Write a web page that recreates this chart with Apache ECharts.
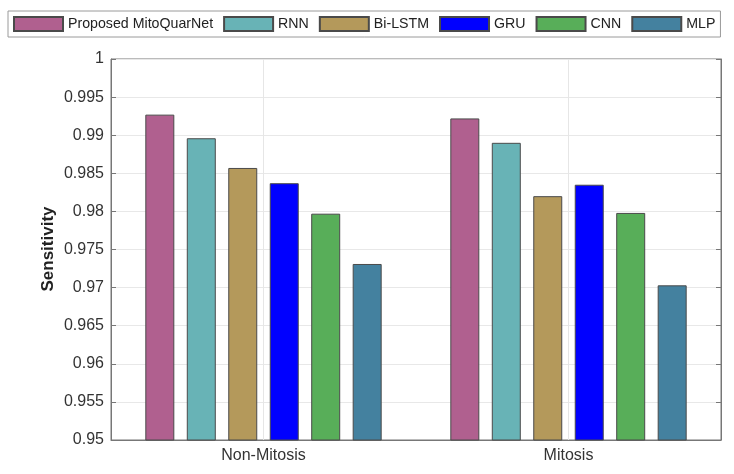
<!DOCTYPE html>
<html>
<head>
<meta charset="utf-8">
<script src="https://cdn.jsdelivr.net/npm/echarts@6/dist/echarts.min.js"></script>
<style>
  html, body { margin: 0; padding: 0; background: #fff; }
  #container { width: 734px; height: 474px; }
</style>
</head>
<body>
<div id="container"></div>
<script>
const categories = ['Non-Mitosis', 'Mitosis']
const seriesNames = ['Proposed MitoQuarNet', 'RNN', 'Bi-LSTM', 'GRU', 'CNN', 'MLP']

const proposed = [0.9927, 0.9922]
const rnn = [0.9896, 0.9890]
const bilstm = [0.9857, 0.9820]
const gru = [0.9837, 0.9835]
const cnn = [0.9797, 0.9798]
const mlp = [0.9731, 0.9703]

const colors = ['#b0608f', '#68b3b6', '#b4995b', '#0000ff', '#58ae59', '#44819f']

const values = [proposed, rnn, bilstm, gru, cnn, mlp]

const font = '"Liberation Sans", Arial, sans-serif'

const chart = echarts.init(document.getElementById('container'), null, { renderer: 'canvas' })

const option = {
    backgroundColor: '#fff',
    animation: false,
    legend: {
        left: 8,
        top: 11,
        padding: [5, 5],
        itemWidth: 49,
        itemHeight: 14,
        itemGap: 10,
        icon: 'rect',
        borderColor: '#9a9a9a',
        borderWidth: 1,
        textStyle: {
            color: '#222',
            fontSize: 14.2,
            fontFamily: font
        },
        data: seriesNames
    },
    grid: {
        left: 111,
        right: 13,
        top: 59,
        bottom: 34,
        show: true,
        borderColor: '#777',
        borderWidth: 1
    },
    // y axis title, placed by hand
    graphic: [
        {
            type: 'text',
            x: 48,
            y: 249,
            rotation: Math.PI / 2,
            style: {
                text: 'Sensitivity',
                fill: '#222',
                font: 'bold 17px "Liberation Sans", Arial, sans-serif',
                textAlign: 'center',
                textVerticalAlign: 'middle'
            }
        }
    ],
    xAxis: [
        {
            type: 'category',
            data: categories,
            axisLine: { lineStyle: { color: '#777' } },
            axisTick: { inside: true, alignWithLabel: true, length: 5, lineStyle: { color: '#777' } },
            axisLabel: { color: '#333', fontSize: 16, fontFamily: font, margin: 8 },
            splitLine: { show: false }
        },
        {
            // only used for the vertical grid lines through the category centres
            type: 'value',
            min: 0,
            max: 4,
            interval: 1,
            show: true,
            position: 'top',
            axisLine: { show: false },
            axisTick: { show: false },
            axisLabel: { show: false },
            splitLine: { show: true, lineStyle: { color: ['transparent', '#e6e6e6'] } }
        }
    ],
    yAxis: [
        {
            type: 'value',
            min: 0.95,
            max: 1,
            interval: 0.005,
            axisLine: { show: true, lineStyle: { color: '#777' } },
            axisTick: { show: true, inside: true, length: 5, lineStyle: { color: '#777' } },
            axisLabel: {
                color: '#333',
                fontSize: 16,
                fontFamily: font,
                margin: 7,
                formatter: (v) => String(+v.toFixed(3))
            },
            splitLine: { show: true, lineStyle: { color: '#e8e8e8' } }
        },
        {
            type: 'value',
            min: 0.95,
            max: 1,
            interval: 0.005,
            position: 'right',
            axisLine: { show: true, lineStyle: { color: '#777' } },
            axisTick: { show: true, inside: true, length: 5, lineStyle: { color: '#777' } },
            axisLabel: { show: false },
            splitLine: { show: false }
        }
    ],
    series: seriesNames.map((name, i) => ({
        name: name,
        type: 'bar',
        xAxisIndex: 0,
        yAxisIndex: 0,
        data: values[i],
        barWidth: 29,
        barGap: '43%',
        itemStyle: {
            color: colors[i],
            borderColor: '#4a4a4a',
            borderWidth: 1
        }
    }))
}

chart.setOption(option)
</script>
</body>
</html>
